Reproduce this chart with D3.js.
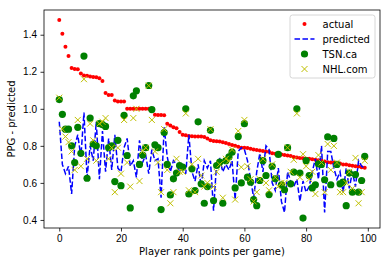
<!DOCTYPE html>
<html>
<head>
<meta charset="utf-8">
<script src="https://cdn.jsdelivr.net/npm/d3@7"></script>
<style>
  body { margin: 0; background: #fff; }
  svg { display: block; font-family: "DejaVu Sans", sans-serif; }
  .tick text { font-size: 10px; fill: #000; }
  .tick line { stroke: #000; stroke-width: 0.8; }
</style>
</head>
<body>
<svg width="389" height="266"></svg>
<script>
// data (index = player rank)
const actual = [
  1.48, 1.405, 1.335, 1.285, 1.22, 1.215, 1.213, 1.19, 1.18, 1.178,
  1.175, 1.172, 1.17, 1.165, 1.15, 1.085, 1.075, 1.075, 1.045, 1.04,
  1.04, 1.04, 1.0, 1.0, 1.0, 1.0, 1.0, 1.0, 1.0, 1.0,
  1.0, 0.968, 0.967, 0.967, 0.965, 0.92, 0.91, 0.9, 0.895, 0.875,
  0.86, 0.857, 0.853, 0.852, 0.85, 0.85, 0.85, 0.848, 0.84, 0.83,
  0.826, 0.825, 0.824, 0.82, 0.815, 0.81, 0.805, 0.8, 0.795, 0.79,
  0.79, 0.788, 0.785, 0.78, 0.778, 0.775, 0.772, 0.77, 0.768, 0.76,
  0.758, 0.756, 0.754, 0.75, 0.748, 0.745, 0.74, 0.737, 0.735, 0.733,
  0.731, 0.73, 0.728, 0.725, 0.722, 0.72, 0.715, 0.712, 0.71, 0.71,
  0.708, 0.705, 0.7, 0.7, 0.695, 0.692, 0.69, 0.688, 0.685, 0.682
];
const predicted = [
  0.93, 0.7, 0.65, 0.69, 0.54, 0.8, 0.86, 0.74, 0.98, 0.63,
  0.8, 0.72, 0.93, 0.62, 0.88, 0.66, 0.84, 0.67, 0.86, 0.68,
  0.66, 0.79, 0.84, 0.69, 0.72, 0.63, 0.83, 0.71, 0.75, 0.65,
  0.78, 0.72, 0.73, 0.52, 0.9, 0.74, 0.66, 0.72, 0.7, 0.66,
  0.7, 0.65, 0.86, 0.66, 0.61, 0.7, 0.58, 0.72, 0.68, 0.72,
  0.45, 0.71, 0.73, 0.66, 0.7, 0.67, 0.72, 0.51, 0.77, 0.79,
  0.78, 0.72, 0.62, 0.52, 0.66, 0.76, 0.66, 0.8, 0.78, 0.6,
  0.56, 0.68, 0.5, 0.44, 0.66, 0.61, 0.58, 0.62, 0.5, 0.61,
  0.55, 0.58, 0.66, 0.73, 0.62, 0.8, 0.44, 0.77, 0.77, 0.68,
  0.62, 0.66, 0.55, 0.68, 0.57, 0.66, 0.58, 0.72, 0.69, 0.68
];
const tsn = [
  1.05, 0.97, 0.89, 0.89, 0.8, 0.71, 0.9, 0.76, 1.285, 0.625,
  0.95, 0.81, 0.8, 0.92, 0.915, 0.905, 0.79, 0.8, 0.607, 0.83,
  0.585, 0.965, 0.748, 0.465, 1.07, 1.097, 0.7, 0.75, 0.79, 1.126,
  0.996, 0.806, 0.79, 0.456, 0.872, 0.7, 0.535, 0.622, 0.653, 0.694,
  0.685, 1.0, 0.54, 0.676, 0.559, 0.93, 0.595, 0.49, 0.58, 0.884,
  0.505, 0.694, 0.712, 0.49, 0.72, 0.74, 0.766, 0.573, 0.85, 0.6,
  0.92, 0.631, 0.604, 0.51, 0.477, 0.613, 0.72, 0.64, 0.537, 0.69,
  0.622, 0.754, 0.59, 0.563, 0.79, 0.595, 0.658, 1.0, 0.653, 0.41,
  0.72, 0.64, 0.573, 0.59, 0.703, 0.7, 0.617, 0.848, 0.59, 0.84,
  0.7, 0.595, 0.604, 0.477, 0.653, 0.55, 0.645, 0.55, 0.613, 0.743
];
const nhl = [
  1.06, 0.89, 0.85, 0.82, 0.77, 0.67, 0.94, 0.69, 1.16, 0.73,
  0.92, 0.83, 0.72, 0.92, 0.93, 0.95, 0.73, 0.79, 0.55, 0.79,
  0.65, 0.94, 0.71, 0.58, 0.95, 1.0, 0.61, 0.77, 0.79, 1.125,
  0.94, 0.77, 0.71, 0.55, 0.89, 0.67, 0.49, 0.55, 0.73, 0.66,
  0.66, 0.975, 0.56, 0.7, 0.55, 0.73, 0.64, 0.58, 0.6, 0.89,
  0.58, 0.66, 0.7, 0.52, 0.73, 0.72, 0.78, 0.51, 0.88, 0.685,
  0.94, 0.69, 0.62, 0.5, 0.55, 0.62, 0.73, 0.6, 0.56, 0.7,
  0.63, 0.58, 0.6, 0.6, 0.79, 0.66, 0.725, 0.975, 0.63, 0.755,
  0.69, 0.62, 0.66, 0.54, 0.75, 0.71, 0.55, 0.81, 0.67, 0.8,
  0.71, 0.55, 0.55, 0.6, 0.66, 0.57, 0.735, 0.49, 0.55, 0.72
];
const xTicks = [0, 20, 40, 60, 80, 100];
const yTicks = [0.4, 0.6, 0.8, 1.0, 1.2, 1.4];
const seriesNames = ["actual", "predicted", "TSN.ca", "NHL.com"];

// define constants
const svg = d3.select("svg");
const margin = { top: 10, right: 9, bottom: 38, left: 44 };
const width = +svg.attr("width") - margin.left - margin.right;
const height = +svg.attr("height") - margin.top - margin.bottom;

const ranks = d3.range(actual.length);
const all = actual.concat(predicted, tsn, nhl);

// matplotlib style 5% padding on both axes
const xExt = d3.extent(ranks);
const xPad = (xExt[1] - xExt[0]) * 0.05;
const yExt = d3.extent(all);
const yPad = (yExt[1] - yExt[0]) * 0.05;

const x = d3.scaleLinear()
  .domain([xExt[0] - xPad, xExt[1] + xPad])
  .range([0, width]);
const y = d3.scaleLinear()
  .domain([yExt[0] - yPad, yExt[1] + yPad])
  .range([height, 0]);

const g = svg.append("g")
  .attr("transform", `translate(${margin.left},${margin.top})`);

// axes
g.append("g")
  .attr("transform", `translate(0,${height})`)
  .call(d3.axisBottom(x).tickValues(xTicks).tickSize(3.5).tickPadding(3.5).tickFormat(d3.format("d")))
  .call(a => a.select(".domain").remove());

g.append("g")
  .call(d3.axisLeft(y).tickValues(yTicks).tickSize(3.5).tickPadding(3.5).tickFormat(d3.format(".1f")))
  .call(a => a.select(".domain").remove());

svg.selectAll(".tick text").attr("font-family", null).attr("font-size", null);

// plot area clip so markers don't spill over the frame
svg.append("defs").append("clipPath")
  .attr("id", "plot-clip")
  .append("rect")
  .attr("width", width)
  .attr("height", height);

const plot = g.append("g").attr("clip-path", "url(#plot-clip)");

// actual: small red dots
plot.append("g")
  .selectAll("circle")
  .data(ranks)
  .enter().append("circle")
    .attr("cx", (d) => x(d))
    .attr("cy", (d) => y(actual[d]))
    .attr("r", 2)
    .attr("fill", "#ff0000");

// predicted: blue dashed line
const line = d3.line()
  .x((d) => x(d))
  .y((d) => y(predicted[d]));

plot.append("path")
  .datum(ranks)
  .attr("d", line)
  .attr("fill", "none")
  .attr("stroke", "#0000ff")
  .attr("stroke-width", 1.5)
  .attr("stroke-dasharray", "5.55,2.4");

// TSN.ca: green circles
plot.append("g")
  .selectAll("circle")
  .data(ranks)
  .enter().append("circle")
    .attr("cx", (d) => x(d))
    .attr("cy", (d) => y(tsn[d]))
    .attr("r", 3.6)
    .attr("fill", "#008000");

// NHL.com: yellow crosses
const cross = (sel, s) => sel
  .attr("d", `M${-s},${-s}L${s},${s}M${-s},${s}L${s},${-s}`)
  .attr("fill", "none")
  .attr("stroke", "#bfbf00")
  .attr("stroke-width", 1);

plot.append("g")
  .selectAll("path")
  .data(ranks)
  .enter().append("path")
    .attr("transform", (d) => `translate(${x(d)},${y(nhl[d])})`)
    .call(cross, 3);

// frame
g.append("rect")
  .attr("width", width)
  .attr("height", height)
  .attr("fill", "none")
  .attr("stroke", "#000")
  .attr("stroke-width", 0.8);

// axis labels
svg.append("text")
  .attr("x", margin.left + width / 2)
  .attr("y", 255)
  .attr("text-anchor", "middle")
  .attr("font-size", 10)
  .text("Player rank points per game)");

svg.append("text")
  .attr("transform", `translate(15,${margin.top + height / 2}) rotate(-90)`)
  .attr("text-anchor", "middle")
  .attr("font-size", 10)
  .text("PPG - predicted");

// legend
const legendW = 85;
const legendH = 63;
const legend = g.append("g")
  .attr("transform", `translate(${width - 5 - legendW},5)`);

legend.append("rect")
  .attr("width", legendW)
  .attr("height", legendH)
  .attr("rx", 2.5)
  .attr("fill", "rgba(255,255,255,0.8)")
  .attr("stroke", "#cccccc")
  .attr("stroke-width", 0.8);

const legendItem = legend.selectAll(".legend-item")
  .data(seriesNames)
  .enter().append("g")
    .attr("class", "legend-item")
    .attr("transform", (d, i) => `translate(0,${9 + i * 15})`);

legendItem.each(function (d, i) {
  const item = d3.select(this);
  if (i === 0) {
    item.append("circle").attr("cx", 14.5).attr("r", 2).attr("fill", "#ff0000");
  } else if (i === 1) {
    item.append("line")
      .attr("x1", 4.5).attr("x2", 24.5)
      .attr("stroke", "#0000ff")
      .attr("stroke-width", 1.5)
      .attr("stroke-dasharray", "5.55,2.4");
  } else if (i === 2) {
    item.append("circle").attr("cx", 14.5).attr("r", 3.6).attr("fill", "#008000");
  } else {
    item.append("path").attr("transform", "translate(14.5,0)").call(cross, 3);
  }
});

legendItem.append("text")
  .attr("x", 32.5)
  .attr("y", 3.6)
  .attr("font-size", 10)
  .text((d) => d);
</script>
</body>
</html>
